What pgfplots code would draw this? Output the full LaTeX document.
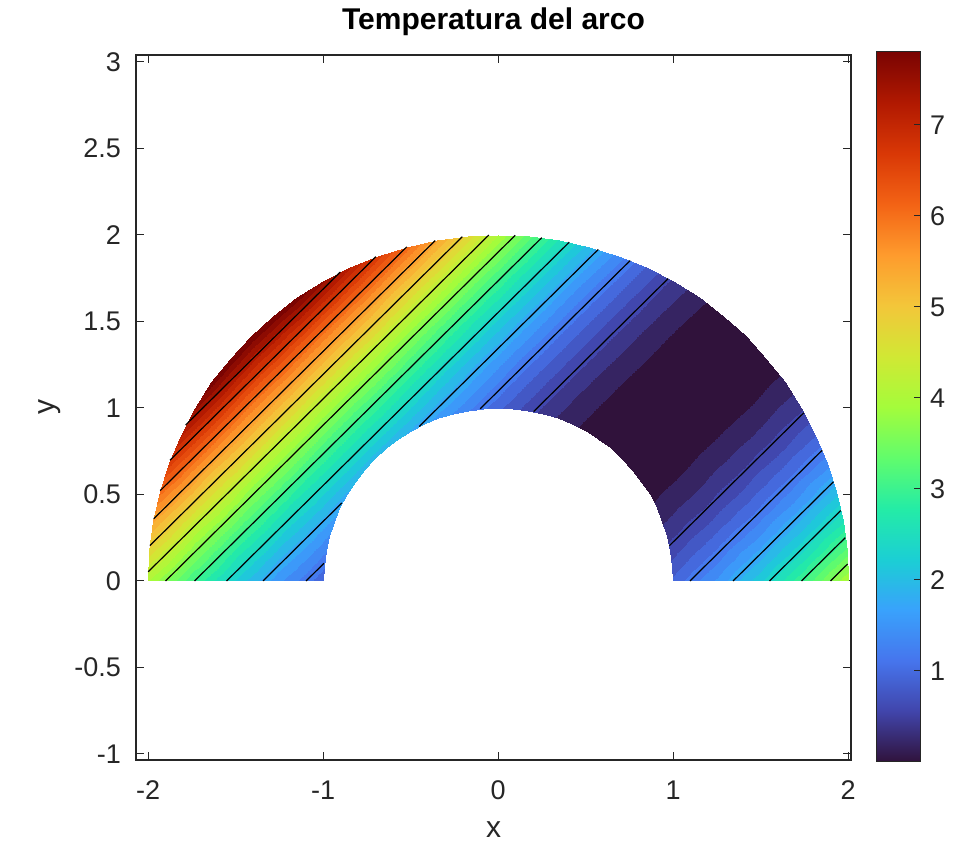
\documentclass[border=0pt]{standalone}
\usepackage{fontspec}
\setmainfont{Liberation Sans}
\usepackage{pgfplots}
\pgfplotsset{compat=1.18}

\definecolor{axgray}{gray}{0.15}
\pgfplotsset{
  colormap={turbo}{
    rgb255=(48,18,59) rgb255=(65,69,171) rgb255=(70,117,237) rgb255=(57,162,252)
    rgb255=(27,207,212) rgb255=(36,236,166) rgb255=(97,252,108) rgb255=(164,252,59)
    rgb255=(209,232,52) rgb255=(243,198,58) rgb255=(254,155,45) rgb255=(243,99,21)
    rgb255=(217,56,6) rgb255=(177,25,1) rgb255=(122,4,2)
  },
  colormap={turboband}{samples of colormap=(41 of turbo)},
  /pgf/number format/assume math mode=true,
  every tick label/.append style={font=\fontsize{13.5}{16}\selectfont, text=axgray},
}

\begin{document}
\begin{tikzpicture}
\begin{axis}[
  scale only axis, width=357.5pt, height=352.5pt,
  xmin=-2.069, xmax=2.017, ymin=-1.035, ymax=3.04,
  xtick={-2,-1,0,1,2},
  ytick={-1,-0.5,0,0.5,1,1.5,2,2.5,3},
  tick align=inside, major tick length=4pt,
  every tick/.style={axgray, line width=0.5pt},
  axis line style={axgray, line width=0.6pt},
  xticklabel style={yshift=-7pt},
  yticklabel style={xshift=-4pt},
  xlabel={x}, ylabel={y},
  xlabel style={at={([yshift=-35pt]axis description cs:0.5,0)}, anchor=center,
    font=\fontsize{15}{18}\selectfont, text=axgray},
  ylabel style={at={([xshift=-43pt]axis description cs:0,0.5)}, anchor=center,
    font=\fontsize{15}{18}\selectfont, text=axgray},
  title={Temperatura del arco},
  title style={font=\fontsize{15}{18}\selectfont\bfseries, text=black},
  colormap name=turboband, colormap access=piecewise constant,
  point meta min=0, point meta max=7.8,
  colorbar,
  colorbar/width=22pt,
  colorbar style={
    at={(parent axis.south east)}, anchor=south west,
    xshift=4pt, yshift=-1pt,
    width=22pt, height=355pt,
    colormap name=turbo, colormap access=map,
    ytick={1,2,3,4,5,6,7},
    ytick pos=right, yticklabel pos=right,
    tick align=inside, major tick length=3pt,
    every tick/.style={axgray, line width=0.5pt},
    axis line style={axgray, line width=0.5pt},
    yticklabel style={xshift=1.5pt},
  },
]
% temperature on a polar grid: (angle, radius) [T]
\addplot[surf, shader=interp, mesh/cols=5, point meta=explicit, data cs=polar] coordinates {
(0,1)[1] (0,1.25)[1.5625] (0,1.5)[2.25] (0,1.75)[3.0625] (0,2)[4]
(5,1)[0.8264] (5,1.25)[1.2913] (5,1.5)[1.8594] (5,1.75)[2.5309] (5,2)[3.3056]
(10,1)[0.658] (10,1.25)[1.0281] (10,1.5)[1.4805] (10,1.75)[2.0151] (10,2)[2.632]
(15,1)[0.5] (15,1.25)[0.7813] (15,1.5)[1.125] (15,1.75)[1.5313] (15,2)[2]
(20,1)[0.3572] (20,1.25)[0.5581] (20,1.5)[0.8037] (20,1.75)[1.0939] (20,2)[1.4288]
(25,1)[0.234] (25,1.25)[0.3656] (25,1.5)[0.5265] (25,1.75)[0.7166] (25,2)[0.936]
(30,1)[0.134] (30,1.25)[0.2094] (30,1.5)[0.3015] (30,1.75)[0.4104] (30,2)[0.536]
(35,1)[0.0603] (35,1.25)[0.0942] (35,1.5)[0.1357] (35,1.75)[0.1847] (35,2)[0.2412]
(40,1)[0.0152] (40,1.25)[0.0238] (40,1.5)[0.0342] (40,1.75)[0.0466] (40,2)[0.0608]
(45,1)[0] (45,1.25)[0] (45,1.5)[0] (45,1.75)[0] (45,2)[0]
(50,1)[0.0152] (50,1.25)[0.0238] (50,1.5)[0.0342] (50,1.75)[0.0466] (50,2)[0.0608]
(55,1)[0.0603] (55,1.25)[0.0942] (55,1.5)[0.1357] (55,1.75)[0.1847] (55,2)[0.2412]
(60,1)[0.134] (60,1.25)[0.2094] (60,1.5)[0.3015] (60,1.75)[0.4104] (60,2)[0.536]
(65,1)[0.234] (65,1.25)[0.3656] (65,1.5)[0.5265] (65,1.75)[0.7166] (65,2)[0.936]
(70,1)[0.3572] (70,1.25)[0.5581] (70,1.5)[0.8037] (70,1.75)[1.0939] (70,2)[1.4288]
(75,1)[0.5] (75,1.25)[0.7813] (75,1.5)[1.125] (75,1.75)[1.5313] (75,2)[2]
(80,1)[0.658] (80,1.25)[1.0281] (80,1.5)[1.4805] (80,1.75)[2.0151] (80,2)[2.632]
(85,1)[0.8264] (85,1.25)[1.2913] (85,1.5)[1.8594] (85,1.75)[2.5309] (85,2)[3.3056]
(90,1)[1] (90,1.25)[1.5625] (90,1.5)[2.25] (90,1.75)[3.0625] (90,2)[4]
(95,1)[1.1736] (95,1.25)[1.8338] (95,1.5)[2.6406] (95,1.75)[3.5942] (95,2)[4.6944]
(100,1)[1.342] (100,1.25)[2.0969] (100,1.5)[3.0195] (100,1.75)[4.1099] (100,2)[5.368]
(105,1)[1.5] (105,1.25)[2.3438] (105,1.5)[3.375] (105,1.75)[4.5938] (105,2)[6]
(110,1)[1.6428] (110,1.25)[2.5669] (110,1.5)[3.6963] (110,1.75)[5.0311] (110,2)[6.5712]
(115,1)[1.766] (115,1.25)[2.7594] (115,1.5)[3.9735] (115,1.75)[5.4084] (115,2)[7.064]
(120,1)[1.866] (120,1.25)[2.9156] (120,1.5)[4.1985] (120,1.75)[5.7146] (120,2)[7.464]
(125,1)[1.9397] (125,1.25)[3.0308] (125,1.5)[4.3643] (125,1.75)[5.9403] (125,2)[7.7588]
(130,1)[1.9848] (130,1.25)[3.1013] (130,1.5)[4.4658] (130,1.75)[6.0784] (130,2)[7.8]
(135,1)[2] (135,1.25)[3.125] (135,1.5)[4.5] (135,1.75)[6.125] (135,2)[7.8]
(140,1)[1.9848] (140,1.25)[3.1013] (140,1.5)[4.4658] (140,1.75)[6.0784] (140,2)[7.8]
(145,1)[1.9397] (145,1.25)[3.0308] (145,1.5)[4.3643] (145,1.75)[5.9403] (145,2)[7.7588]
(150,1)[1.866] (150,1.25)[2.9156] (150,1.5)[4.1985] (150,1.75)[5.7146] (150,2)[7.464]
(155,1)[1.766] (155,1.25)[2.7594] (155,1.5)[3.9735] (155,1.75)[5.4084] (155,2)[7.064]
(160,1)[1.6428] (160,1.25)[2.5669] (160,1.5)[3.6963] (160,1.75)[5.0311] (160,2)[6.5712]
(165,1)[1.5] (165,1.25)[2.3438] (165,1.5)[3.375] (165,1.75)[4.5938] (165,2)[6]
(170,1)[1.342] (170,1.25)[2.0969] (170,1.5)[3.0195] (170,1.75)[4.1099] (170,2)[5.368]
(175,1)[1.1736] (175,1.25)[1.8338] (175,1.5)[2.6406] (175,1.75)[3.5942] (175,2)[4.6944]
(180,1)[1] (180,1.25)[1.5625] (180,1.5)[2.25] (180,1.75)[3.0625] (180,2)[4]
};
% isotherms
\addplot[black, line width=0.6pt, unbounded coords=jump] coordinates {
(0.2035,0.9791) (0.9722,1.7478) (nan,nan)
(-1.0969,0) (-0.9948,0.1021) (nan,nan)
(-0.1021,0.9948) (0.7551,1.852) (nan,nan)
(-1.3434,0) (-0.8927,0.4507) (nan,nan)
(-0.4507,0.8927) (0.5728,1.9162) (nan,nan)
(-1.5512,0) (0.407,1.9582) (nan,nan)
(-1.7343,0) (0.25,1.9843) (nan,nan)
(-1.8998,0) (0.0978,1.9976) (nan,nan)
(-1.9993,0.0527) (-0.0527,1.9993) (nan,nan)
(-1.9896,0.2042) (-0.2042,1.9896) (nan,nan)
(-1.9675,0.3593) (-0.3593,1.9675) (nan,nan)
(-1.9307,0.5219) (-0.5219,1.9307) (nan,nan)
(-1.8742,0.6981) (-0.6981,1.8742) (nan,nan)
(-1.7854,0.9014) (-0.9014,1.7854) (nan,nan)
(0.9791,0.2035) (1.7478,0.9722) (nan,nan)
(1.0969,0) (1.852,0.7551) (nan,nan)
(1.3434,0) (1.9162,0.5728) (nan,nan)
(1.5512,0) (1.9582,0.407) (nan,nan)
(1.7343,0) (1.9843,0.25) (nan,nan)
(1.8998,0) (1.9976,0.0978)
};
\end{axis}
\pgfresetboundingbox
\path[use as bounding box] (-68pt,-47pt) rectangle (408.5pt,380pt);
\end{tikzpicture}
\end{document}
